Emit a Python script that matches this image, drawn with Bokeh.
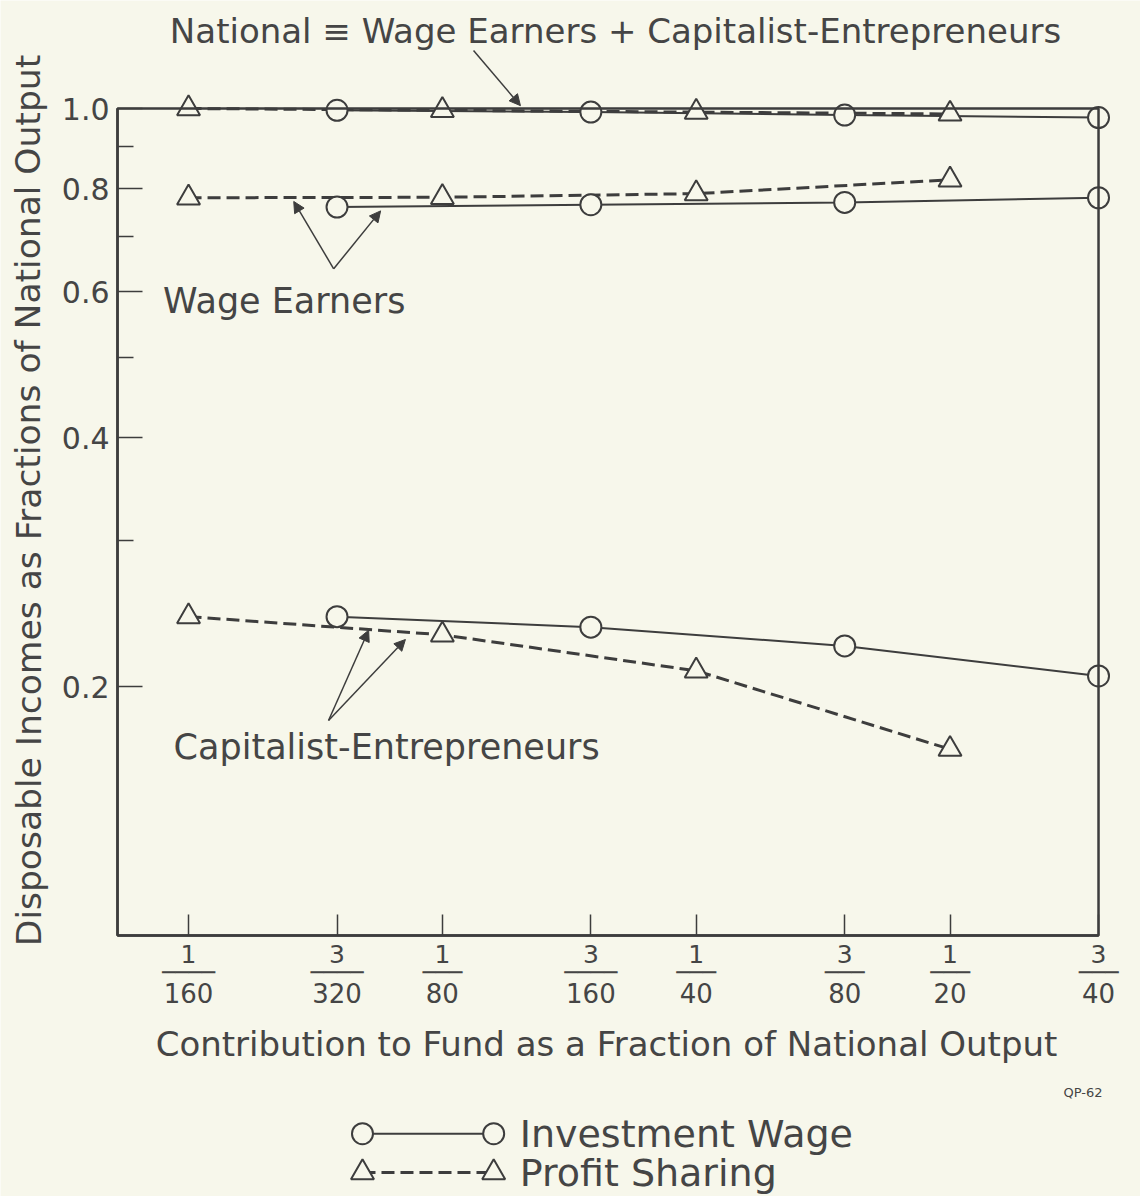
from bokeh.plotting import figure
from bokeh.models import Range1d, FixedTicker, BoxAnnotation, Label, Arrow, NormalHead
from bokeh.embed import file_html
from bokeh.resources import INLINE

# ---------------- data ----------------
X_TICK_NUM = ["1", "3", "1", "3", "1", "3", "1", "3"]
X_TICK_DEN = ["160", "320", "80", "160", "40", "80", "20", "40"]
X_TICKS = [int(n) / int(d) for n, d in zip(X_TICK_NUM, X_TICK_DEN)]

Y_TICKS = [0.2, 0.4, 0.6, 0.8, 1.0]
Y_TICK_LABELS = ["0.2", "0.4", "0.6", "0.8", "1.0"]
Y_MINOR = [0.3, 0.5, 0.7, 0.9]

# Investment Wage (circles, solid)
iw_x = [3 / 320, 3 / 160, 3 / 80, 3 / 40]
iw_national = [0.995, 0.99, 0.982, 0.975]
iw_wage = [0.76, 0.765, 0.77, 0.78]
iw_capital = [0.243, 0.236, 0.224, 0.206]

# Profit Sharing (triangles, dashed)
ps_x = [1 / 160, 1 / 80, 1 / 40, 1 / 20]
ps_national = [1.0, 0.995, 0.99, 0.985]
ps_wage = [0.78, 0.781, 0.789, 0.82]
ps_capital = [0.243, 0.231, 0.209, 0.168]

# ---------------- style / layout ----------------
BG = "#f7f7eb"
INK = "#3d3d3d"
TXT = "#454545"
FONT = "DejaVu Sans"
DASH = "13 6"

AX_X_LO, AX_X_HI = 0.005148, X_TICKS[-1]   # box: left / right
AX_Y_LO, AX_Y_HI = 0.1, 1.0                # box: bottom / top
VIEW_X = (0.003740, 0.08411)
VIEW_Y = (0.04836, 1.3508)

p = figure(width=1140, height=1196, x_axis_type="log", y_axis_type="log",
           x_range=Range1d(*VIEW_X), y_range=Range1d(*VIEW_Y),
           output_backend="svg", toolbar_location=None, min_border=0,
           background_fill_color=BG, border_fill_color=BG, outline_line_color=None)
p.grid.visible = False

# y axis (drawn inside the frame at the box's left edge)
p.yaxis.fixed_location = AX_X_LO
p.yaxis.ticker = FixedTicker(ticks=Y_TICKS, minor_ticks=Y_MINOR)
p.yaxis.major_label_overrides = dict(zip(Y_TICKS, Y_TICK_LABELS))
p.yaxis.bounds = (AX_Y_LO, AX_Y_HI)
p.yaxis.major_tick_in = 25
p.yaxis.major_tick_out = 0
p.yaxis.minor_tick_in = 16
p.yaxis.minor_tick_out = 0
p.yaxis.axis_line_width = 2.5
p.yaxis.axis_line_color = INK
p.yaxis.major_tick_line_color = INK
p.yaxis.minor_tick_line_color = INK
p.yaxis.major_tick_line_width = 1.5
p.yaxis.minor_tick_line_width = 1.5
p.yaxis.major_label_text_font = FONT
p.yaxis.major_label_text_font_size = "30px"
p.yaxis.major_label_text_color = TXT
p.yaxis.major_label_standoff = 8

# x axis (drawn inside the frame at the box's bottom edge)
p.xaxis.fixed_location = AX_Y_LO
p.xaxis.ticker = FixedTicker(ticks=X_TICKS, minor_ticks=[])
p.xaxis.bounds = (AX_X_LO, AX_X_HI)
p.xaxis.major_tick_in = 21
p.xaxis.major_tick_out = 0
p.xaxis.minor_tick_line_color = None
p.xaxis.axis_line_width = 2.5
p.xaxis.axis_line_color = INK
p.xaxis.major_tick_line_color = INK
p.xaxis.major_tick_line_width = 1.5
p.xaxis.major_label_text_font_size = "1px"
p.xaxis.major_label_text_color = None

# frame box
p.add_layout(BoxAnnotation(left=AX_X_LO, right=AX_X_HI, bottom=AX_Y_LO, top=AX_Y_HI,
                           fill_alpha=0, line_color=INK, line_alpha=1, line_width=2.5))

# fraction tick labels
for t, n, d in zip(X_TICKS, X_TICK_NUM, X_TICK_DEN):
    p.add_layout(Label(x=t, y=AX_Y_LO, y_offset=-18, text=n, text_align="center",
                       text_baseline="middle", text_font=FONT,
                       text_font_size="25px", text_color=TXT))
    p.add_layout(Label(x=t, y=AX_Y_LO, y_offset=-37, text="\u2500" * (len(d) + 1),
                       text_align="center", text_baseline="middle",
                       text_font=FONT, text_font_size="22px", text_color=TXT))
    p.add_layout(Label(x=t, y=AX_Y_LO, y_offset=-57, text=d, text_align="center",
                       text_baseline="middle", text_font=FONT,
                       text_font_size="26px", text_color=TXT))

# data lines
for ys in (iw_national, iw_wage, iw_capital):
    p.line(iw_x, ys, line_color=INK, line_width=2)
for ys in (ps_national, ps_wage, ps_capital):
    p.line(ps_x, ys, line_color=INK, line_width=3, line_dash=DASH)
for ys in (iw_national, iw_wage, iw_capital):
    p.scatter(iw_x, ys, marker="circle", size=21, fill_color=BG,
              line_color=INK, line_width=2)
for ys in (ps_national, ps_wage, ps_capital):
    p.scatter(ps_x, ys, marker="triangle", size=23, fill_color=BG,
              line_color=INK, line_width=2)

# annotations
def arrow(x0, y0, x1, y1):
    p.add_layout(Arrow(x_start=x0, y_start=y0, x_end=x1, y_end=y1,
                       line_color=INK, line_width=1.5,
                       end=NormalHead(size=11, fill_color=INK, line_color=INK)))

def text(x, y, s, size="35px", units="data", align="left", angle=0.0):
    p.add_layout(Label(x=x, y=y, x_units=units, y_units=units, text=s,
                       text_align=align, text_baseline="middle", angle=angle,
                       text_font=FONT, text_font_size=size, text_color=TXT))

arrow(0.01361, 1.175, 0.01547, 1.008)
arrow(0.00929, 0.64, 0.00833, 0.772)
arrow(0.00929, 0.64, 0.01056, 0.752)
text(0.00583, 0.585, "Wage Earners")
arrow(0.00916, 0.182, 0.01022, 0.234)
arrow(0.00916, 0.182, 0.0113, 0.228)
text(0.0060, 0.169, "Capitalist-Entrepreneurs")

text(615, 1166, "National \u2261 Wage Earners + Capitalist-Entrepreneurs",
     size="34px", units="screen", align="center")
text(606, 153, "Contribution to Fund as a Fraction of National Output",
     size="34px", units="screen", align="center")
text(28, 696, "Disposable Incomes as Fractions of National Output",
     size="34.5px", units="screen", align="center", angle=1.5708)
text(1102, 104, "QP-62", size="13px", units="screen", align="right")

# ---------------- legend ----------------
LEG_LABELS = ["Investment Wage", "Profit Sharing"]
LEG_MARKERS = ["circle", "triangle"]
LEG_DASH = ["solid", DASH]
LEG_SAMPLE_X = [0.01005, 0.01438]
LEG_Y = [0.0576, 0.0517]
for lab, mk, dash, ly in zip(LEG_LABELS, LEG_MARKERS, LEG_DASH, LEG_Y):
    p.line(LEG_SAMPLE_X, [ly, ly], line_color=INK, line_width=2 if dash == "solid" else 3,
           line_dash=dash)
    p.scatter(LEG_SAMPLE_X, [ly, ly], marker=mk, size=21 if mk == "circle" else 23,
              fill_color=BG, line_color=INK, line_width=2)
    p.add_layout(Label(x=LEG_SAMPLE_X[-1], y=ly, x_offset=26, text=lab,
                       text_baseline="middle", text_font=FONT,
                       text_font_size="38px", text_color=TXT))

open("out.html", "w").write(file_html(p, INLINE))
